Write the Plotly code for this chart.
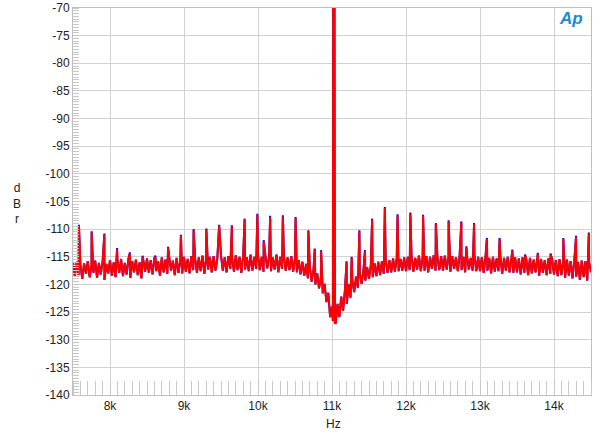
import plotly.graph_objects as go

# ---------------- data ----------------
floor_start_hz = 7500
floor_step_hz = 25
floor_db = [
    # 7500-7975
    -116.0, -118.6, -115.9, -118.3, -116.4, -119.0, -116.2, -118.1, -115.8, -118.7,
    -116.5, -117.9, -115.7, -118.8, -116.1, -118.2, -115.9, -119.2, -116.3, -118.0,
    # 8000-8475
    -115.6, -118.4, -116.0, -118.7, -115.5, -117.9, -115.4, -118.5, -116.1, -118.2,
    -115.3, -118.8, -115.8, -117.8, -115.5, -118.3, -116.0, -118.9, -115.6, -117.7,
    # 8500-8975
    -115.3, -117.9, -115.6, -118.2, -115.2, -117.6, -115.8, -118.4, -115.1, -117.8,
    -115.5, -118.1, -115.0, -117.5, -115.7, -118.3, -115.2, -117.9, -115.6, -118.0,
    # 9000-9475
    -115.0, -117.7, -115.4, -118.0, -114.9, -117.4, -115.3, -117.9, -115.1, -117.6,
    -114.8, -118.1, -115.2, -117.3, -115.0, -117.8, -114.9, -117.5, -115.4, -117.9,
    # 9500-9975
    -114.8, -117.5, -115.1, -117.8, -114.9, -117.2, -115.2, -117.7, -114.7, -117.4,
    -115.0, -117.9, -114.8, -117.3, -115.1, -117.6, -114.6, -117.5, -115.0, -117.2,
    # 10000-10475
    -114.7, -117.4, -115.0, -117.7, -114.8, -117.1, -114.9, -117.6, -115.1, -117.3,
    -114.6, -117.8, -115.0, -117.2, -114.8, -117.5, -115.1, -117.4, -114.9, -117.7,
    # 10500-10975
    -115.3, -117.8, -115.6, -118.2, -115.9, -118.4, -116.3, -118.9, -116.8, -119.5,
    -117.3, -120.0, -118.0, -120.7, -118.8, -121.6, -119.9, -123.2, -121.5, -125.9,
    # 11000-11475
    -124.0, -127.0, -127.1, -123.5, -125.9, -122.2, -124.8, -121.0, -123.5, -120.0,
    -122.4, -119.3, -121.4, -118.6, -120.6, -117.9, -119.9, -117.4, -119.3, -116.9,
    # 11500-11975
    -119.0, -116.5, -118.7, -116.2, -118.5, -115.9, -118.3, -115.8, -118.1, -115.5,
    -117.9, -115.6, -117.8, -115.3, -117.7, -115.2, -117.6, -115.4, -117.5, -115.1,
    # 12000-12475
    -117.6, -115.0, -117.4, -114.9, -117.7, -115.2, -117.3, -114.8, -117.6, -115.1,
    -117.5, -114.9, -117.8, -115.0, -117.2, -114.7, -117.5, -115.1, -117.4, -114.9,
    # 12500-12975
    -117.5, -114.8, -117.3, -115.0, -117.7, -114.9, -117.2, -115.1, -117.6, -114.7,
    -117.4, -115.0, -117.8, -114.9, -117.3, -115.2, -117.5, -114.8, -117.6, -115.0,
    # 13000-13475
    -117.6, -115.1, -117.9, -114.9, -117.5, -115.2, -118.0, -115.0, -117.7, -115.3,
    -117.6, -114.9, -118.1, -115.2, -117.5, -115.0, -117.8, -115.3, -117.9, -115.1,
    # 13500-13975
    -117.8, -115.3, -118.2, -115.1, -117.9, -115.4, -118.3, -115.2, -118.0, -115.5,
    -117.8, -115.2, -118.4, -115.4, -117.9, -115.6, -118.3, -115.3, -118.1, -115.5,
    # 14000-14475
    -118.2, -115.6, -118.5, -115.4, -118.3, -115.7, -118.8, -115.5, -118.4, -115.8,
    -118.9, -115.6, -118.6, -115.9, -119.2, -115.7, -118.7, -115.8, -119.3, -116.0,
    # 14500
    -117.8,
]
floor_hz = [floor_start_hz + floor_step_hz * i for i in range(len(floor_db))]

# main tone (goes off the top of the chart), with its skirt points
tone_hz = [11012, 11020, 11025, 11030, 11038]
tone_db = [-126.6, -20.0, -10.0, -20.0, -126.9]

# jitter sidebands
side_hz = [7580, 7752, 7924, 8096, 8269, 8441, 8613, 8785, 8958, 9130,
           9302, 9475, 9647, 9819, 9991, 10164, 10336, 10508, 10681, 10853,
           11197, 11370, 11542, 11714, 11886, 12059, 12231, 12403, 12576, 12748,
           12920, 13093, 13265, 13437, 13609, 13781, 13954, 14126, 14298, 14471,
           10077, 10767, 11266, 11446, 12816]
side_red_db = [-109.4, -110.6, -111.0, -113.6, -114.4, -115.0, -115.0, -113.4, -111.2, -110.2,
               -110.1, -109.4, -109.5, -108.3, -107.4, -107.8, -107.7, -108.0, -110.4, -114.0,
               -116.0, -110.4, -108.3, -106.2, -107.5, -107.2, -107.6, -109.1, -108.6, -108.8,
               -109.1, -111.8, -111.8, -113.9, -114.8, -114.5, -114.6, -111.8, -111.4, -110.8,
               -112.2, -113.7, -115.2, -114.0, -113.3]
side_blue_db = [-109.2, -110.4, -110.8, -113.4, -114.2, -114.8, -114.8, -113.2, -111.0, -110.0,
                -109.9, -109.2, -109.3, -108.1, -107.2, -107.6, -107.5, -107.8, -110.2, -113.8,
                -115.8, -110.2, -108.1, -106.0, -107.3, -107.0, -107.4, -108.9, -108.4, -108.6,
                -108.9, -111.6, -111.6, -113.7, -114.6, -114.3, -114.4, -111.6, -111.2, -110.6,
                -112.0, -113.5, -115.0, -113.8, -113.1]

x_tick_vals = [8000, 9000, 10000, 11000, 12000, 13000, 14000]
x_tick_text = ["8k", "9k", "10k", "11k", "12k", "13k", "14k"]
y_tick_vals = [-70, -75, -80, -85, -90, -95, -100, -105, -110, -115, -120, -125, -130, -135, -140]
y_tick_text = ["-70", "-75", "-80", "-85", "-90", "-95", "-100", "-105", "-110",
               "-115", "-120", "-125", "-130", "-135", "-140"]


def build(spike_db):
    pts = dict(zip(floor_hz, floor_db))
    pts.update(zip(side_hz, spike_db))
    pts.update(zip(tone_hz, tone_db))
    xs = sorted(pts)
    return xs, [pts[x] for x in xs]


bx, by = build(side_blue_db)
rx, ry = build(side_red_db)

fig = go.Figure()
fig.add_trace(go.Scatter(x=bx, y=by, mode="lines",
                         line=dict(color="#0000ff", width=2, simplify=False), hoverinfo="skip"))
fig.add_trace(go.Scatter(x=rx, y=ry, mode="lines",
                         line=dict(color="#ff0000", width=2, simplify=False), hoverinfo="skip"))

font = dict(family="Liberation Sans, Arial, sans-serif", size=12, color="#222222")
grid_col = "#d2d2d2"

fig.update_layout(
    width=600, height=435,
    margin=dict(l=73, r=9, t=8, b=40, autoexpand=False),
    paper_bgcolor="white", plot_bgcolor="white",
    showlegend=False, font=font,
    xaxis=dict(range=[7500, 14500], tickmode="array", tickvals=x_tick_vals,
               ticktext=x_tick_text, showgrid=True, gridcolor=grid_col, gridwidth=1,
               zeroline=False, showline=True, linecolor="#c0c0c0", mirror=True,
               ticks="", tickfont=font, automargin=False,
               minor=dict(tickmode="linear", tick0=7500, dtick=100, ticks="inside",
                          ticklen=14, tickcolor="#c8c8c8", tickwidth=1, showgrid=False)),
    yaxis=dict(range=[-140, -70], tickmode="array", tickvals=y_tick_vals,
               ticktext=y_tick_text, showgrid=True, gridcolor=grid_col, gridwidth=1,
               zeroline=False, showline=True, linecolor="#c0c0c0", mirror=True,
               ticks="", tickfont=font, automargin=False,
               minor=dict(tickmode="linear", tick0=-140, dtick=0.5, ticks="inside",
                          ticklen=6, tickcolor="#c8c8c8", tickwidth=1, showgrid=False)),
    annotations=[
        dict(text="d<br>B<br>r", xref="paper", yref="paper", x=-0.108, y=0.496,
             xanchor="center", yanchor="middle", showarrow=False, font=font),
        dict(text="Hz", xref="paper", yref="paper", x=0.502, y=-0.075,
             xanchor="center", yanchor="middle", showarrow=False, font=font),
        dict(text="<b><i>Ap</i></b>", xref="paper", yref="paper", x=0.961, y=0.974,
             xanchor="center", yanchor="middle", showarrow=False,
             font=dict(family="Liberation Sans, Arial, sans-serif", size=17, color="#1e88d0")),
    ],
)

fig.write_html("out.html", config={"displayModeBar": False},
               post_script="document.body.style.margin='0px';")
